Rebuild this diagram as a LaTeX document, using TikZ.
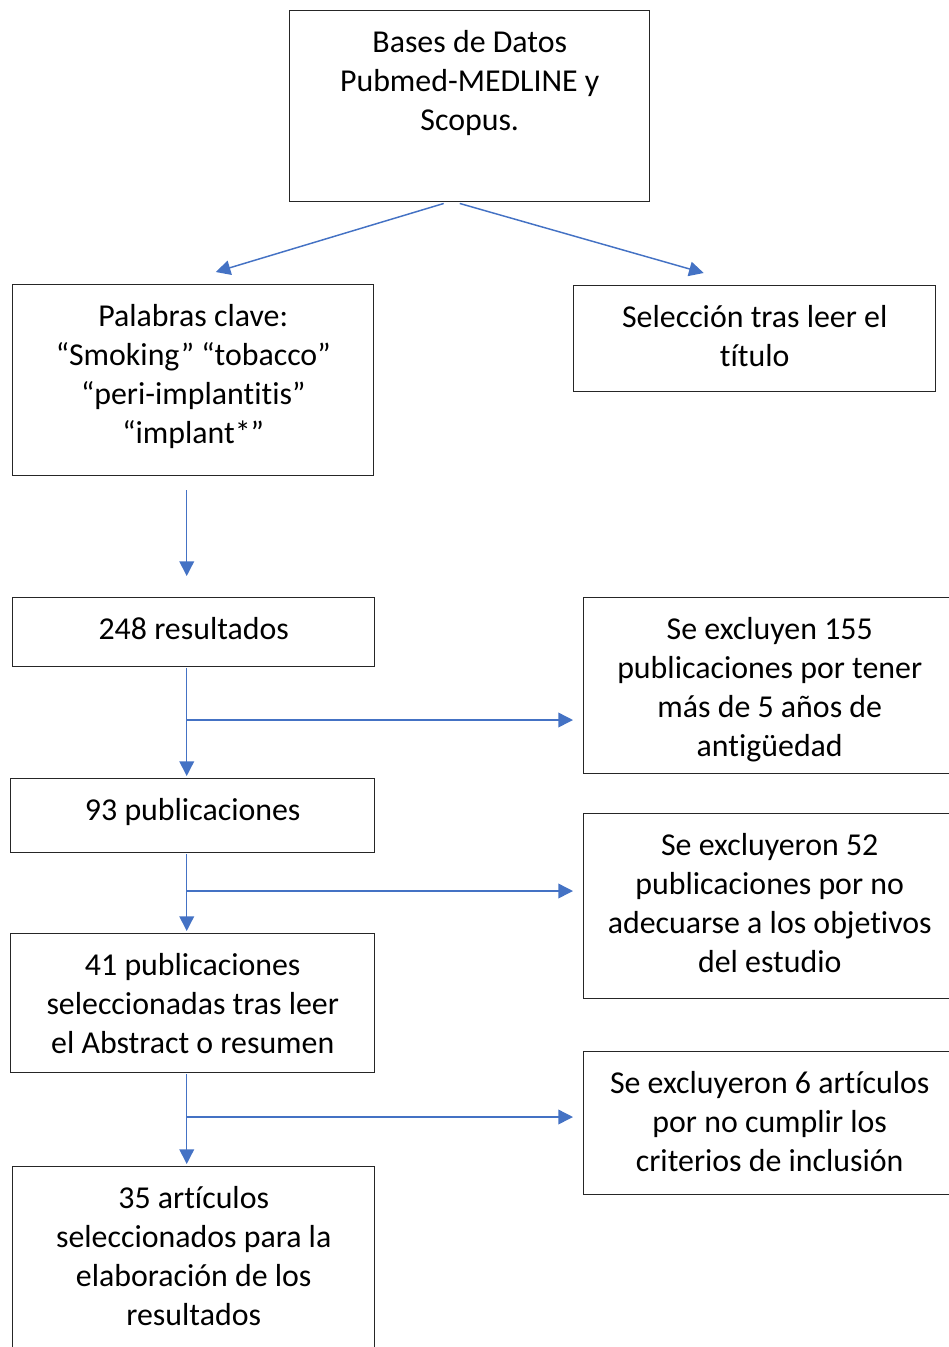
\documentclass[tikz,border=0pt]{standalone}
\usepackage{fontspec}
\setmainfont[Ligatures=NoCommon]{Carlito}
\usetikzlibrary{arrows.meta,calc,positioning}
\definecolor{azul}{HTML}{4472C4}
% box text: width and height in px, text top aligned
\newcommand{\cajatexto}[3]{\parbox[c][\dimexpr#2pt*3/4\relax][t]{\dimexpr#1pt*3/4\relax}{\centering\rule{0pt}{31.5pt}#3}}

\begin{document}
\begin{tikzpicture}
  [
    x=0.75pt, y=-0.75pt,
    caja/.style={draw=black!85, line width=1.1pt, inner sep=0pt, anchor=north west, font=\fontsize{23.9}{29.25}\selectfont},
    flecha/.style={draw=azul, line width=1.1pt, -{Triangle[length=11pt,width=11pt]}},
    linea/.style={draw=azul, line width=1.1pt}
  ]
  \useasboundingbox (0,0) rectangle (949,1347);
  \clip (0,0) rectangle (949,1347);

  \node[caja] (bases) at (289,10) {\cajatexto{360}{191}{Bases de Datos\\ Pubmed-MEDLINE y\\ Scopus.}};
  \node[caja] (palabras) at (12,284) {\cajatexto{361}{191}{Palabras clave:\\ “Smoking” “tobacco”\\ “peri-implantitis”\\ “implant*”}};
  \node[caja] (seleccion) at (573,285) {\cajatexto{362}{106}{Selección tras leer el\\ título}};

  \node[caja] (res248) at (12,597) {\cajatexto{362}{69}{248 resultados}};
  \node[caja] (excl155) at (583,597) {\cajatexto{372}{176}{Se excluyen 155\\ publicaciones por tener\\ más de 5 años de\\ antigüedad}};

  \node[caja] (pub93) at (10,778) {\cajatexto{364}{74}{93 publicaciones}};
  \node[caja] (excl52) at (583,813) {\cajatexto{372}{185}{Se excluyeron 52\\ publicaciones por no\\ adecuarse a los objetivos\\ del estudio}};

  \node[caja] (pub41) at (10,933) {\cajatexto{364}{139}{41 publicaciones\\ seleccionadas tras leer\\ el Abstract o resumen}};
  \node[caja] (excl6) at (583,1051) {\cajatexto{372}{143}{Se excluyeron 6 artículos\\ por no cumplir los\\ criterios de inclusión}};

  \node[caja] (art35) at (12,1166) {\cajatexto{362}{200}{35 artículos\\ seleccionados para la\\ elaboración de los\\ resultados}};

  % arrows
  \draw[flecha] ($(bases.south)+(-26,1)$) -- ($(palabras.north)+(22.5,-12)$);
  \draw[flecha] ($(bases.south)+(-10,1)$) -- ($(seleccion.north)+(-51,-12)$);
  \draw[flecha] ($(palabras.south)+(-6.5,14)$) -- ($(res248.north)+(-7,-21)$);
  \draw[flecha] ($(res248.south)+(-7,1)$) -- ($(pub93.north)+(-6,-2)$);
  \draw[flecha] ($(pub93.south)+(-6,1)$) -- ($(pub41.north)+(-6,-2)$);
  \draw[flecha] ($(pub41.south)+(-6,1)$) -- ($(art35.north)+(-7,-2)$);

  \coordinate (r1) at (186,720);
  \coordinate (r2) at (186,891);
  \coordinate (r3) at (186,1117);
  \draw[flecha, shorten >=7.5pt] (r1) -- (r1 -| excl155.west);
  \draw[flecha, shorten >=7.5pt] (r2) -- (r2 -| excl52.west);
  \draw[flecha, shorten >=7.5pt] (r3) -- (r3 -| excl6.west);
\end{tikzpicture}
\end{document}
